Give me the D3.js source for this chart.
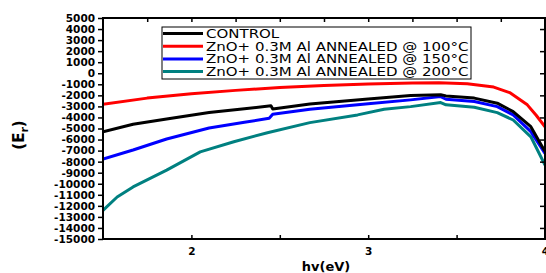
<!DOCTYPE html>
<html>
<head>
<meta charset="utf-8">
<script src="https://cdn.jsdelivr.net/npm/d3@7"></script>
<style>
  html, body { margin: 0; padding: 0; background: #fff; }
  svg { display: block; }
  .tick-label { font-family: "DejaVu Sans", sans-serif; font-weight: bold; font-size: 10.5px; fill: #000; }
  .legend-label { font-family: "DejaVu Sans", sans-serif; font-size: 12px; fill: #000; }
</style>
</head>
<body>
<div id="chart"></div>
<script>
  // ========== data ==========
  const seriesNames = [
    'CONTROL',
    'ZnO+ 0.3M Al ANNEALED @ 100°C',
    'ZnO+ 0.3M Al ANNEALED @ 150°C',
    'ZnO+ 0.3M Al ANNEALED @ 200°C'
  ];
  const seriesColors = ['#000000', '#ff0000', '#0000ff', '#008080'];

  const controlX = [1.5, 1.67, 1.86, 2.1, 2.3, 2.45, 2.46, 2.67, 3.0, 3.24, 3.41, 3.44, 3.6, 3.73, 3.82, 3.92, 3.99, 4.0];
  const controlY = [-5300, -4620, -4140, -3560, -3220, -2950, -3230, -2780, -2340, -2020, -1950, -2050, -2250, -2710, -3470, -4840, -6800, -7050];

  const a100X = [1.5, 1.75, 2.0, 2.25, 2.5, 2.75, 3.0, 3.25, 3.4, 3.56, 3.71, 3.8, 3.9, 3.95, 4.0];
  const a100Y = [-2800, -2250, -1850, -1550, -1300, -1100, -980, -890, -850, -950, -1250, -1750, -2860, -3800, -4850];

  const a150X = [1.5, 1.67, 1.86, 2.1, 2.3, 2.44, 2.46, 2.67, 3.0, 3.24, 3.41, 3.44, 3.6, 3.73, 3.82, 3.92, 4.0];
  const a150Y = [-7770, -6950, -5950, -4950, -4440, -4070, -3710, -3250, -2770, -2410, -2110, -2350, -2560, -3020, -3770, -5290, -7250];

  const a200X = [1.5, 1.58, 1.67, 1.86, 2.05, 2.24, 2.43, 2.67, 2.94, 3.09, 3.24, 3.41, 3.44, 3.6, 3.73, 3.82, 3.92, 4.0];
  const a200Y = [-12410, -11200, -10290, -8770, -7110, -6200, -5380, -4470, -3770, -3250, -3020, -2650, -2860, -3070, -3560, -4230, -5750, -8320];

  const xTickLabels = [2, 3, 4];
  const yTickValues = d3.range(-15000, 5001, 1000);

  // ========== layout ==========
  const width = 546, height = 273;
  const plot = { left: 103, right: 545, top: 18, bottom: 239 };

  const svg = d3.select('#chart')
    .append('svg')
    .attr('width', width)
    .attr('height', height);

  const x = d3.scaleLinear().domain([1.5, 4]).range([plot.left, plot.right]);
  const y = d3.scaleLinear().domain([-15000, 5000]).range([plot.bottom, plot.top]);

  // clip
  svg.append('clipPath').attr('id', 'plotClip')
    .append('rect')
    .attr('x', plot.left).attr('y', plot.top)
    .attr('width', plot.right - plot.left).attr('height', plot.bottom - plot.top);

  // curves
  const seriesData = [
    d3.zip(controlX, controlY),
    d3.zip(a100X, a100Y),
    d3.zip(a150X, a150Y),
    d3.zip(a200X, a200Y)
  ];

  const line = d3.line().x(d => x(d[0])).y(d => y(d[1]));

  // draw 200 first so the black one ends up on top like the original
  const drawOrder = [3, 2, 1, 0];
  svg.append('g')
    .attr('clip-path', 'url(#plotClip)')
    .selectAll('path')
    .data(drawOrder)
    .enter()
    .append('path')
    .attr('d', i => line(seriesData[i]))
    .attr('fill', 'none')
    .attr('stroke', i => seriesColors[i])
    .attr('stroke-width', 3)
    .attr('stroke-linejoin', 'round');

  // left axis
  const leftAxis = svg.append('g')
    .attr('transform', `translate(${plot.left},0)`)
    .call(d3.axisLeft(y).tickValues(yTickValues).tickSize(5).tickPadding(3).tickFormat(d => String(d)));
  leftAxis.select('.domain').remove();
  leftAxis.selectAll('line').attr('stroke', '#000').attr('stroke-width', 1.5);
  leftAxis.selectAll('text').attr('class', 'tick-label').attr('font-family', null).attr('font-size', null);

  // right axis (inner ticks, no labels)
  const rightAxis = svg.append('g')
    .attr('transform', `translate(${plot.right},0)`)
    .call(d3.axisLeft(y).tickValues(d3.range(-14000, 5000, 2000)).tickSize(5).tickFormat(''));
  rightAxis.select('.domain').remove();
  rightAxis.selectAll('line').attr('stroke', '#000').attr('stroke-width', 1.5);

  // bottom axis
  const bottomAxis = svg.append('g')
    .attr('transform', `translate(0,${plot.bottom})`)
    .call(d3.axisTop(x).tickValues([2, 2.5, 3, 3.5]).tickSize(4).tickFormat(''));
  bottomAxis.select('.domain').remove();
  bottomAxis.selectAll('line').attr('stroke', '#000').attr('stroke-width', 1.5);

  const bottomLabels = svg.append('g')
    .attr('transform', `translate(0,${plot.bottom})`)
    .call(d3.axisBottom(x).tickValues(xTickLabels).tickSize(0).tickPadding(9).tickFormat(d3.format('d')));
  bottomLabels.select('.domain').remove();
  bottomLabels.selectAll('text').attr('class', 'tick-label').attr('font-family', null).attr('font-size', null);

  // top axis (inner ticks)
  const topAxis = svg.append('g')
    .attr('transform', `translate(0,${plot.top})`)
    .call(d3.axisBottom(x).tickValues(d3.range(1.75, 4, 0.25)).tickSize(4).tickFormat(''));
  topAxis.select('.domain').remove();
  topAxis.selectAll('line').attr('stroke', '#000').attr('stroke-width', 1.5);

  // frame
  svg.append('rect')
    .attr('x', plot.left).attr('y', plot.top)
    .attr('width', plot.right - plot.left).attr('height', plot.bottom - plot.top)
    .attr('fill', 'none')
    .attr('stroke', '#000')
    .attr('stroke-width', 2);

  // axis titles
  svg.append('text')
    .attr('x', (plot.left + plot.right) / 2 + 2)
    .attr('y', 271)
    .attr('text-anchor', 'middle')
    .style('font-family', '"DejaVu Sans", sans-serif')
    .style('font-weight', 'bold')
    .style('font-size', '13px')
    .text('hv(eV)');

  const yTitle = svg.append('text')
    .attr('transform', 'translate(24,135) rotate(-90)')
    .attr('text-anchor', 'middle')
    .style('font-family', '"DejaVu Sans", sans-serif')
    .style('font-weight', 'bold')
    .style('font-size', '15px');
  yTitle.append('tspan').text('(E');
  yTitle.append('tspan').attr('dy', 4).style('font-size', '11px').text('r');
  yTitle.append('tspan').attr('dy', -4).text(')');

  // legend
  const legend = svg.append('g').attr('transform', 'translate(162,27)');
  legend.append('rect')
    .attr('width', 309).attr('height', 52)
    .attr('fill', '#fff')
    .attr('stroke', '#000')
    .attr('stroke-width', 1);

  const rows = legend.selectAll('g.row')
    .data(seriesNames)
    .enter()
    .append('g')
    .attr('class', 'row')
    .attr('transform', (d, i) => `translate(0,${6.5 + i * 12.7})`);

  rows.append('line')
    .attr('x1', 1).attr('x2', 41)
    .attr('stroke', (d, i) => seriesColors[i])
    .attr('stroke-width', 3);

  // the original legend type is wide and short, so stretch it sideways
  rows.append('text')
    .attr('class', 'legend-label')
    .attr('transform', 'translate(44,4.5) scale(1.25,1)')
    .text(d => d);
</script>
</body>
</html>
